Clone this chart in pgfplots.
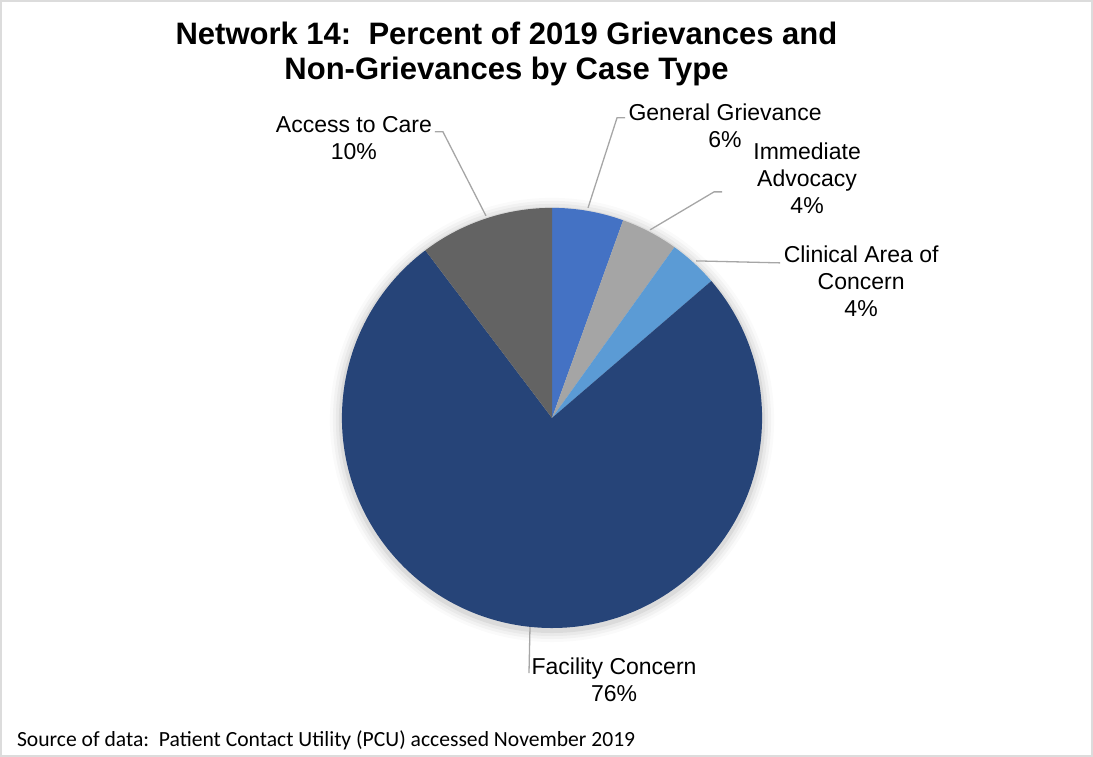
\documentclass[border=0pt]{standalone}
\usepackage{pgfplots}
\pgfplotsset{compat=1.18}
\usepackage{fontspec}
\setmainfont{Liberation Sans}
\newfontfamily\calib{Carlito}
\definecolor{ggc}{HTML}{4472C4}
\definecolor{iac}{HTML}{A5A5A5}
\definecolor{cacc}{HTML}{5B9BD5}
\definecolor{fcc}{HTML}{264478}
\definecolor{acc}{HTML}{636363}
\definecolor{leader}{HTML}{A6A6A6}
\definecolor{frame}{HTML}{DCDCDC}
\tikzset{lbl/.style={font=\fontsize{23}{27}\selectfont, align=center, inner sep=0pt, text=black}}
\begin{document}
\begin{tikzpicture}
\begin{axis}[x=1pt, y=1pt, xmin=0, xmax=1093, ymin=0, ymax=757,
  scale only axis, hide axis, clip=false]
% frame
\draw[frame, line width=1.6pt] (axis cs:1,1) rectangle (axis cs:1092,756);
% soft shadow
\foreach \r/\o in {222/0.02, 219/0.03, 216/0.04, 213/0.06} {
  \edef\temp{\noexpand\fill[black, opacity=\o] (axis cs:552,337) circle[radius=\r pt];}
  \temp
}
% wedges (percent values, clockwise from top)
\gdef\curang{90}
\foreach \v/\c in {5.5/ggc, 4.4/iac, 3.8/cacc, 76.0/fcc, 10.3/acc} {
  \pgfmathsetmacro\newang{\curang-3.6*\v}
  \edef\temp{\noexpand\fill[\c] (axis cs:552,339) -- ++(\curang:210pt) arc[start angle=\curang, end angle=\newang, radius=210pt] -- cycle;}
  \temp
  \xdef\curang{\newang}
}
% leader lines
\draw[leader, line width=1.3pt] (axis cs:588,549) -- (axis cs:617,639) -- (axis cs:625,639);
\draw[leader, line width=1.3pt] (axis cs:650,527) -- (axis cs:714,565) -- (axis cs:722,565);
\draw[leader, line width=1.3pt] (axis cs:696,496) -- (axis cs:780,494);
\draw[leader, line width=1.3pt] (axis cs:486,541) -- (axis cs:443,625) -- (axis cs:435,625);
\draw[leader, line width=1.3pt] (axis cs:530,130) -- (axis cs:529,84);
% labels
\node[lbl] at (axis cs:725,631) {General Grievance\\6\%};
\node[lbl] at (axis cs:807,579) {Immediate\\Advocacy\\4\%};
\node[lbl] at (axis cs:861,476) {Clinical Area of\\Concern\\4\%};
\node[lbl] at (axis cs:354,618.5) {Access to Care\\10\%};
\node[lbl] at (axis cs:614,77.5) {Facility Concern\\76\%};
% title
\node[font=\bfseries\fontsize{31}{35}\selectfont, align=center, inner sep=0pt] at (axis cs:506.5,703) {Network 14:\ \ Percent of 2019 Grievances and\\Non-Grievances by Case Type};
% source
\node[font=\calib\fontsize{21.6}{26}\selectfont, anchor=west, inner sep=0pt] at (axis cs:17,17) {Source of data:\ \ Patient Contact Utility (PCU) accessed November 2019};
\end{axis}
\end{tikzpicture}
\end{document}
